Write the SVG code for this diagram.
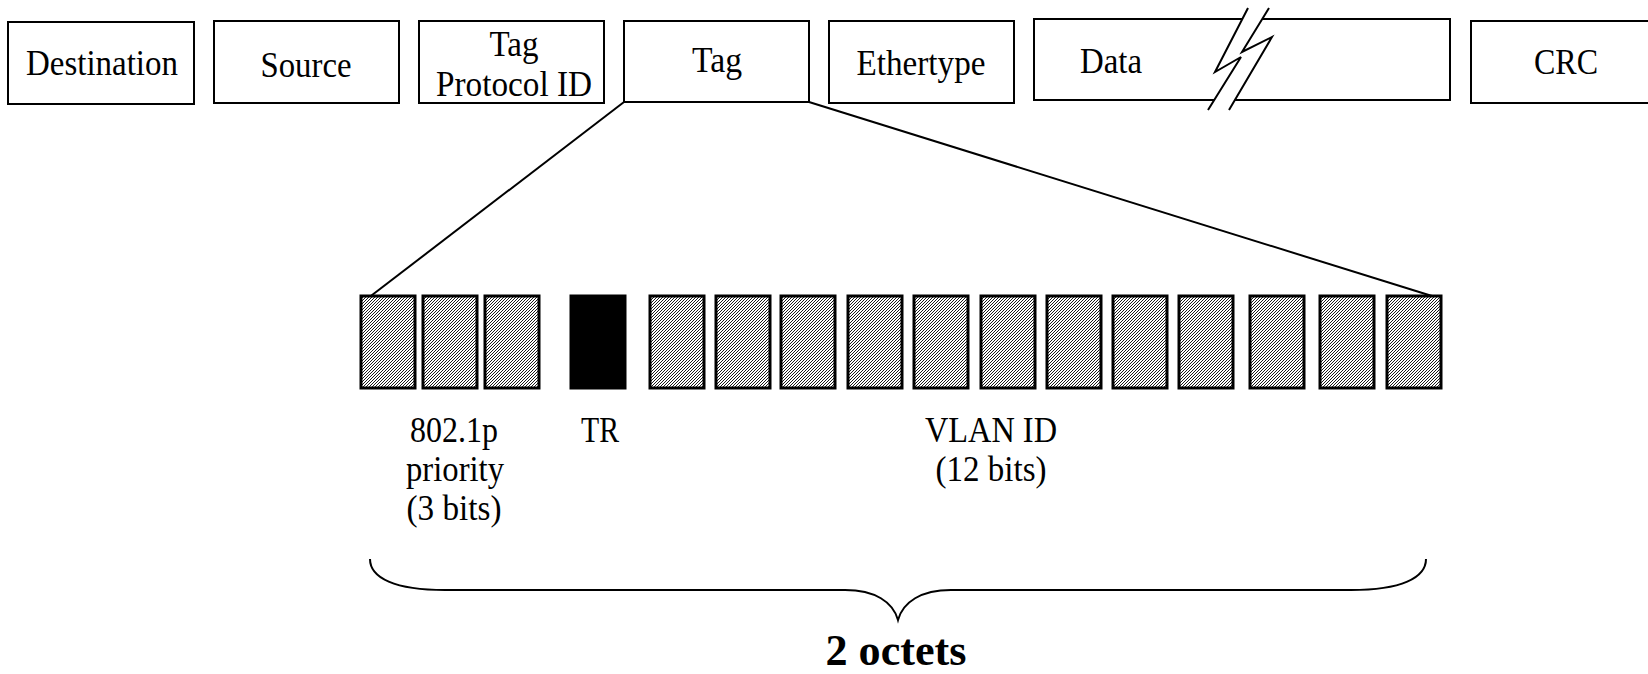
<svg xmlns="http://www.w3.org/2000/svg" width="1648" height="674" viewBox="0 0 1648 674">
<style>
.box{fill:#fff;stroke:#000;stroke-width:2}
.bit{fill:url(#hatch);stroke:#000;stroke-width:3}
.blk{fill:#000;stroke:#000;stroke-width:3}
.t{font-family:"Liberation Serif","Times New Roman",serif;font-size:36px;fill:#000;text-anchor:middle}
.b{font-family:"Liberation Serif","Times New Roman",serif;font-size:45px;font-weight:bold;fill:#000;text-anchor:middle}
.ln{fill:none;stroke:#000;stroke-width:2}
</style>
<defs>
<pattern id="hatch" width="3" height="3" patternUnits="userSpaceOnUse">
<rect width="3" height="3" fill="#fff"/>
<path d="M-1,1 L1,-1 M0,3 L3,0 M2,4 L4,2" stroke="#000" stroke-width="0.9"/>
</pattern>
</defs>
<g id="frame">
<g id="destination"><rect class="box" x="8" y="22" width="186" height="82"/><text class="t" x="102" y="75" textLength="152" lengthAdjust="spacingAndGlyphs">Destination</text></g>
<g id="source"><rect class="box" x="214" y="21" width="185" height="82"/><text class="t" x="306" y="77" textLength="91" lengthAdjust="spacingAndGlyphs">Source</text></g>
<g id="tpid"><rect class="box" x="419" y="21" width="185" height="82"/><text class="t" x="514" y="56" textLength="49" lengthAdjust="spacingAndGlyphs">Tag</text><text class="t" x="514" y="96" textLength="156" lengthAdjust="spacingAndGlyphs">Protocol ID</text></g>
<g id="tag"><rect class="box" x="624" y="21" width="185" height="81"/><text class="t" x="717" y="72" textLength="50" lengthAdjust="spacingAndGlyphs">Tag</text></g>
<g id="ethertype"><rect class="box" x="829" y="21" width="185" height="82"/><text class="t" x="921" y="75" textLength="129" lengthAdjust="spacingAndGlyphs">Ethertype</text></g>
<g id="data"><rect class="box" x="1034" y="19" width="416" height="81"/><text class="t" x="1111" y="73" textLength="62" lengthAdjust="spacingAndGlyphs">Data</text>
<polygon points="1248,8 1215,72 1241,57 1208,110 1229,110 1272,37 1242,52 1269,8" fill="#fff" stroke="none"/>
<polyline class="ln" points="1248,8 1215,72 1241,57 1208,110"/>
<polyline class="ln" points="1269,8 1242,52 1272,37 1229,110"/>
</g>
<g id="crc"><rect class="box" x="1471" y="21" width="200" height="82"/><text class="t" x="1566" y="74" textLength="64" lengthAdjust="spacingAndGlyphs">CRC</text></g>
</g>
<g id="connectors">
<line class="ln" x1="624" y1="102" x2="363" y2="302"/>
<line class="ln" x1="809" y1="102" x2="1432" y2="296"/>
<path class="ln" d="M370,559 C370,578 395,590 445,590 L845,590 C875,590 893,602 898,620 C903,602 921,590 951,590 L1351,590 C1401,590 1426,578 1426,559"/>
</g>
<g id="bits">
<rect class="bit" x="361" y="296" width="54" height="92"/>
<rect class="bit" x="423" y="296" width="54" height="92"/>
<rect class="bit" x="485" y="296" width="54" height="92"/>
<rect class="blk" x="571" y="296" width="54" height="92"/>
<rect class="bit" x="650" y="296" width="54" height="92"/>
<rect class="bit" x="716" y="296" width="54" height="92"/>
<rect class="bit" x="781" y="296" width="54" height="92"/>
<rect class="bit" x="848" y="296" width="54" height="92"/>
<rect class="bit" x="914" y="296" width="54" height="92"/>
<rect class="bit" x="981" y="296" width="54" height="92"/>
<rect class="bit" x="1047" y="296" width="54" height="92"/>
<rect class="bit" x="1113" y="296" width="54" height="92"/>
<rect class="bit" x="1179" y="296" width="54" height="92"/>
<rect class="bit" x="1250" y="296" width="54" height="92"/>
<rect class="bit" x="1320" y="296" width="54" height="92"/>
<rect class="bit" x="1387" y="296" width="54" height="92"/>
</g>
<g id="labels">
<text class="t" x="454" y="442" textLength="88" lengthAdjust="spacingAndGlyphs">802.1p</text>
<text class="t" x="455" y="481" textLength="98" lengthAdjust="spacingAndGlyphs">priority</text>
<text class="t" x="454" y="520" textLength="95" lengthAdjust="spacingAndGlyphs">(3 bits)</text>
<text class="t" x="600" y="442" textLength="38" lengthAdjust="spacingAndGlyphs">TR</text>
<text class="t" x="991" y="442" textLength="132" lengthAdjust="spacingAndGlyphs">VLAN ID</text>
<text class="t" x="991" y="481" textLength="111" lengthAdjust="spacingAndGlyphs">(12 bits)</text>
<text class="b" x="896" y="665" textLength="141" lengthAdjust="spacingAndGlyphs">2 octets</text>
</g>
</svg>
